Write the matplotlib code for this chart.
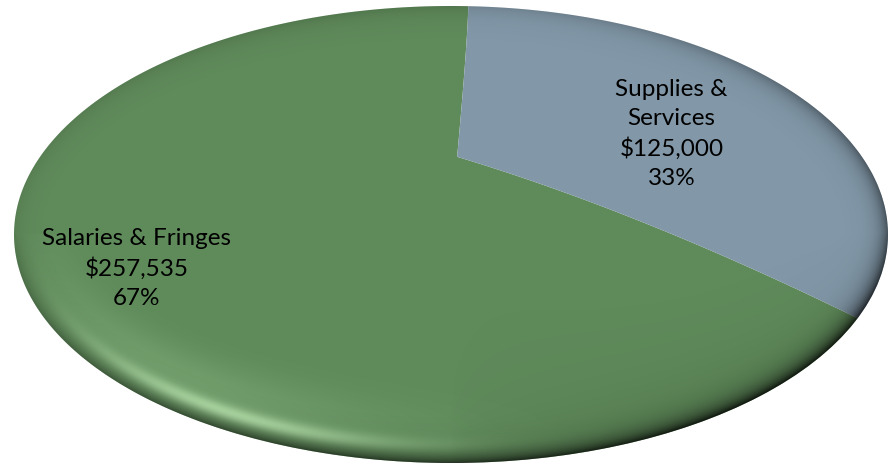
import numpy as np
import matplotlib
matplotlib.use("Agg")
import matplotlib.pyplot as plt
from matplotlib.patches import Polygon, Ellipse

# budget split
categories = ["Salaries & Fringes", "Supplies & Services"]
amounts = [257535, 125000]
label_lines = [["Salaries & Fringes"], ["Supplies &", "Services"]]
colors = ["#5F8A5A", "#8298A8"]

# view of the tilted, slightly domed pie
tilt = 0.17          # perspective pull of the centre toward the back
dome = (0.014, 0.17)  # how far the raised centre shifts on screen
start_deg = 87.3     # first slice starts just right of 12 o'clock, counter-clockwise


def project(r, theta):
    x0 = r * np.cos(theta)
    y0 = r * np.sin(theta)
    g = 1.0 / np.sqrt(1.0 - tilt ** 2)
    w = g * (1.0 + tilt * y0)
    y1 = g * (y0 + tilt)
    bulge = 1.0 - r ** 2
    return x0 / w + dome[0] * bulge, y1 / w + dome[1] * bulge


W, H = 889, 465
fig = plt.figure(figsize=(W / 100, H / 100), dpi=100)
ax = fig.add_axes([14 / W, 2 / H, 874 / W, 457 / H])
ax.set_xlim(-1, 1)
ax.set_ylim(-1, 1)
ax.axis("off")

total = sum(amounts)
fracs = [a / total for a in amounts]
bounds = np.radians(start_deg + 360 * np.concatenate([[0], np.cumsum(fracs)]))

rs = np.linspace(0, 1, 60)
for i, c in enumerate(colors):
    a0, a1 = bounds[i], bounds[i + 1]
    arc = np.linspace(a0, a1, 300)
    xs, ys = [], []
    px, py = project(rs, np.full_like(rs, a0))
    xs += list(px); ys += list(py)
    px, py = project(np.ones_like(arc), arc)
    xs += list(px); ys += list(py)
    px, py = project(rs[::-1], np.full_like(rs, a1))
    xs += list(px); ys += list(py)
    ax.add_patch(Polygon(np.column_stack([xs, ys]), closed=True, fc=c,
                         ec="none", zorder=1))

# rim shading and the soft highlight on the lower left
a_px, b_px = 437.0, 228.5
u = np.linspace(-1, 1, 900)
v = np.linspace(-1, 1, 480)
U, V = np.meshgrid(u, v)
rho = np.hypot(U, V)
phi = np.arctan2(V, U)
dpx = (1 - rho) * a_px * b_px / np.sqrt((b_px * np.cos(phi)) ** 2 + (a_px * np.sin(phi)) ** 2)
dpx = np.clip(dpx, 0, None)
bottom = np.clip(-np.sin(phi), 0, 1)
right = np.clip(np.cos(phi), 0, 1)
top = np.clip(np.sin(phi), 0, 1)
left = np.clip(-np.cos(phi), 0, 1)
ang = np.degrees(phi)
wdark = 0.62 * bottom ** 0.6 * (0.55 + 0.45 * np.clip(np.cos(phi + 1.2), 0, 1)) \
    + 0.45 * right ** 2 + 0.15 * top ** 2 + 0.08 * left ** 2
dark = np.clip(wdark, 0, 0.7) * np.exp(-dpx / 9.0) \
    + 0.2 * bottom * right ** 0.5 * np.exp(-dpx / 45.0)
light = 0.75 * np.exp(-((dpx - 17) / 8.0) ** 2) * np.exp(-((ang + 122) / 26.0) ** 2) \
    + 0.2 * np.exp(-((dpx - 35) / 30.0) ** 2) * np.exp(-((ang + 135) / 35.0) ** 2)

dark_img = np.zeros(U.shape + (4,))
dark_img[..., 3] = np.clip(dark, 0, 1)
light_img = np.ones(U.shape + (4,))
light_img[..., :3] = [0.74, 0.92, 0.70]
light_img[..., 3] = np.clip(light, 0, 1)

clip = Ellipse((0, 0), 2, 2, transform=ax.transData, fc="none", ec="none")
ax.add_patch(clip)
for img in (light_img, dark_img):
    im = ax.imshow(img, extent=(-1, 1, -1, 1), origin="lower", aspect="auto",
                   interpolation="bilinear", zorder=2)
    im.set_clip_path(clip)

# data labels
label_pos = [(-0.72, -0.148), (0.505, 0.44)]
for i, cat in enumerate(categories):
    pct = round(100 * amounts[i] / total)
    text = "\n".join(label_lines[i] + [f"${amounts[i]:,}", f"{pct}%"])
    ax.text(*label_pos[i], text, ha="center", va="center", fontsize=17.5,
            family="Lato", color="#000000", linespacing=1.45, zorder=3)

fig.savefig("out.png", dpi=100)
